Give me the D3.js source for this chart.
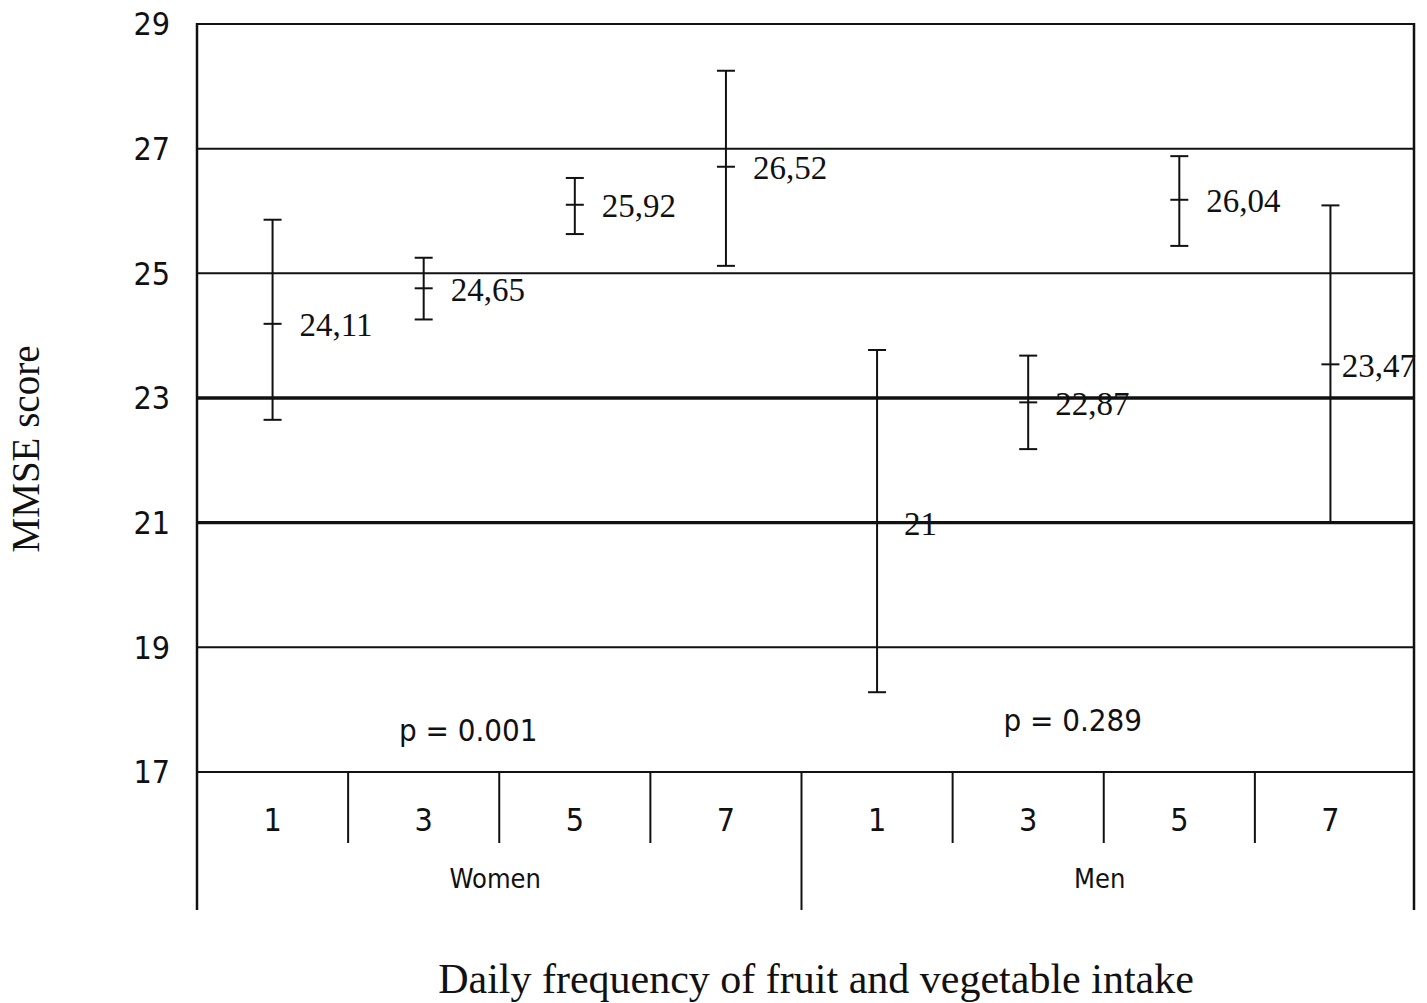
<!DOCTYPE html>
<html>
<head>
<meta charset="utf-8">
<script src="https://cdn.jsdelivr.net/npm/d3@7"></script>
<style>
  body { margin: 0; background: #fff; }
  svg { display: block; }
</style>
</head>
<body>
<script>
// data
const groups = ["Women", "Men"];
const freqs = ["1", "3", "5", "7"];
const means = [24.19, 24.76, 26.10, 26.71, 21.0, 22.93, 26.18, 23.54];
const upper = [25.86, 25.25, 26.53, 28.25, 23.77, 23.68, 26.88, 26.09];
const lower = [22.65, 24.26, 25.63, 25.12, 18.28, 22.18, 25.44, 21.0];
const valueLabels = ["24,11", "24,65", "25,92", "26,52", "21", "22,87", "26,04", "23,47"];
const pValues = ["p = 0.001", "p = 0.289"];
const yTicks = [17, 19, 21, 23, 25, 27, 29];
const boldLines = [21, 23];

const width = 1427, height = 1003;
const plotLeft = 197, plotRight = 1414, plotTop = 24, plotBottom = 772;
const sans = "'DejaVu Sans Condensed', 'DejaVu Sans', sans-serif";
const serif = "'Liberation Serif', 'Times New Roman', serif";

const svg = d3.select("body").append("svg")
  .attr("width", width)
  .attr("height", height);

const cats = [];
groups.forEach(g => freqs.forEach(f => cats.push(g + "-" + f)));

// the last column in the original is a bit wider, so bands stop short of the frame
const x = d3.scaleBand().domain(cats).range([plotLeft, 1406]);
const y = d3.scaleLinear().domain([17, 29]).range([plotBottom, plotTop]);
const gx = d3.scaleBand().domain(groups).range([plotLeft, 1406]);

// horizontal grid lines
svg.selectAll("line.grid")
  .data(yTicks)
  .enter().append("line")
  .attr("class", "grid")
  .attr("x1", plotLeft).attr("x2", plotRight)
  .attr("y1", d => y(d)).attr("y2", d => y(d))
  .attr("stroke", "#111")
  .attr("stroke-width", d => boldLines.includes(d) ? 3.4 : 2);

// frame verticals
[plotLeft, plotRight].forEach(px => {
  svg.append("line")
    .attr("x1", px).attr("x2", px)
    .attr("y1", plotTop - 1).attr("y2", 910)
    .attr("stroke", "#111").attr("stroke-width", 2.5);
});

// category separators below the axis
svg.selectAll("line.sep")
  .data(cats.slice(1))
  .enter().append("line")
  .attr("class", "sep")
  .attr("x1", d => x(d)).attr("x2", d => x(d))
  .attr("y1", plotBottom)
  .attr("y2", d => d.endsWith("-1") ? 910 : 843)
  .attr("stroke", "#111").attr("stroke-width", 2);

// y tick labels
svg.selectAll("text.ytick")
  .data(yTicks)
  .enter().append("text")
  .attr("class", "ytick")
  .attr("x", 170)
  .attr("y", d => y(d))
  .attr("dy", "0.35em")
  .attr("text-anchor", "end")
  .style("font-family", sans)
  .style("font-size", "32px")
  .attr("fill", "#111")
  .text(d => d);

// x category labels
svg.selectAll("text.xtick")
  .data(cats)
  .enter().append("text")
  .attr("class", "xtick")
  .attr("x", d => x(d) + x.bandwidth() / 2)
  .attr("y", 820)
  .attr("dy", "0.35em")
  .attr("text-anchor", "middle")
  .style("font-family", sans)
  .style("font-size", "32px")
  .attr("fill", "#111")
  .text(d => d.split("-")[1]);

// group labels
svg.selectAll("text.group")
  .data(groups)
  .enter().append("text")
  .attr("class", "group")
  .attr("x", d => gx(d) + gx.bandwidth() / 2 - 4)
  .attr("y", 879)
  .attr("dy", "0.35em")
  .attr("text-anchor", "middle")
  .style("font-family", sans)
  .style("font-size", "27px")
  .attr("fill", "#111")
  .text(d => d);

// p values
svg.selectAll("text.pval")
  .data(pValues)
  .enter().append("text")
  .attr("class", "pval")
  .attr("x", (d, i) => gx(groups[i]) + gx.bandwidth() / 2 - 31)
  .attr("y", (d, i) => i === 0 ? 730 : 720)
  .attr("dy", "0.35em")
  .attr("text-anchor", "middle")
  .style("font-family", sans)
  .style("font-size", "31px")
  .attr("fill", "#111")
  .text(d => d);

// error bars
const cap = 9;
const bars = svg.selectAll("g.bar")
  .data(cats)
  .enter().append("g")
  .attr("class", "bar")
  .attr("transform", d => `translate(${x(d) + x.bandwidth() / 2},0)`);

bars.append("line")
  .attr("y1", (d, i) => y(upper[i])).attr("y2", (d, i) => y(lower[i]))
  .attr("stroke", "#111").attr("stroke-width", 2);
[upper, lower, means].forEach(arr => {
  bars.append("line")
    .attr("x1", -cap).attr("x2", cap)
    .attr("y1", (d, i) => y(arr[i])).attr("y2", (d, i) => y(arr[i]))
    .attr("stroke", "#111").attr("stroke-width", 2);
});

// value labels, pulled in when they would run past the frame
bars.append("text")
  .attr("x", 27)
  .attr("y", (d, i) => y(means[i]) + 1)
  .attr("dy", "0.35em")
  .style("font-family", serif)
  .style("font-size", "33px")
  .attr("fill", "#111")
  .text((d, i) => valueLabels[i])
  .each(function (d) {
    const cx = x(d) + x.bandwidth() / 2;
    const len = this.getComputedTextLength();
    if (cx + 27 + len > plotRight) d3.select(this).attr("x", plotRight + 2 - len - cx);
  });

// axis titles
svg.append("text")
  .attr("transform", "translate(25,449) rotate(-90)")
  .attr("text-anchor", "middle")
  .attr("dy", "0.35em")
  .style("font-family", serif)
  .style("font-size", "39px")
  .attr("fill", "#111")
  .text("MMSE score");

svg.append("text")
  .attr("x", 816)
  .attr("y", 978)
  .attr("dy", "0.35em")
  .attr("text-anchor", "middle")
  .style("font-family", serif)
  .style("font-size", "42px")
  .attr("fill", "#111")
  .text("Daily frequency of fruit and vegetable intake");
</script>
</body>
</html>
